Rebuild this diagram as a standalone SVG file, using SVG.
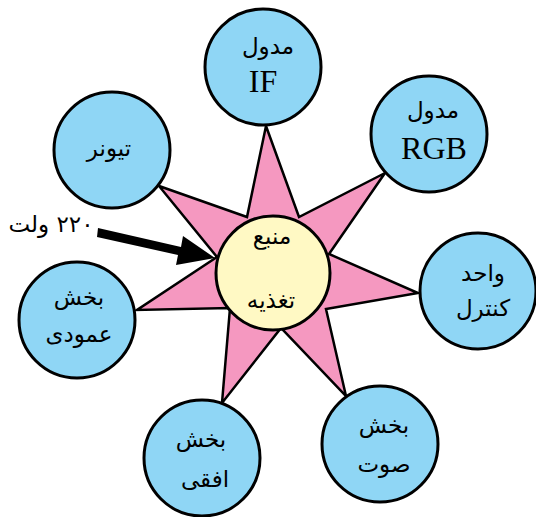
<svg xmlns="http://www.w3.org/2000/svg" width="536" height="517" viewBox="0 0 536 517">
<style>
.c{fill:#8fd6f5;stroke:#000;stroke-width:3}
.t{font-family:"DejaVu Sans","Liberation Serif",serif;font-size:23px;text-anchor:middle;fill:#000}
.l{font-family:"Liberation Serif",serif;font-size:32px}
</style>
<g id="star"><polygon points="266,126 299,217 385,173 329,254 418,293 326,309 346,396 281,328 222,403 230,308 137,310 217,257 159,186 247,217" fill="#f598c0" stroke="#000" stroke-width="2.5" stroke-linejoin="miter"/></g>
<g id="connectors"><polygon points="98,228 181,247 183,236 215,258 176,265 178,255 97,237" fill="#000"/></g>
<g id="center"><circle cx="273" cy="273" r="57" fill="#fff9c4" stroke="#000" stroke-width="3"/><text class="t" x="272" y="244" direction="rtl">منبع</text><text class="t" x="271" y="308" direction="rtl">تغذیه</text></g>
<g id="if"><circle class="c" cx="263" cy="67" r="58"/><text class="t" x="268" y="54" direction="rtl">مدول</text><text class="t l" x="263" y="92">IF</text></g>
<g id="rgb"><circle class="c" cx="429" cy="134" r="58"/><text class="t" x="433" y="118" direction="rtl">مدول</text><text class="t l" x="434" y="159">RGB</text></g>
<g id="control"><circle class="c" cx="478" cy="291" r="58"/><text class="t" x="483" y="281" direction="rtl">واحد</text><text class="t" x="483" y="316" direction="rtl">کنترل</text></g>
<g id="audio"><circle class="c" cx="380" cy="444" r="58"/><text class="t" x="384" y="433" direction="rtl">بخش</text><text class="t" x="384" y="472" direction="rtl">صوت</text></g>
<g id="horizontal"><circle class="c" cx="202" cy="458" r="58"/><text class="t" x="201" y="447" direction="rtl">بخش</text><text class="t" x="205" y="487" direction="rtl">افقی</text></g>
<g id="vertical"><circle class="c" cx="77" cy="320" r="58"/><text class="t" x="79" y="305" direction="rtl">بخش</text><text class="t" x="79" y="342" direction="rtl">عمودی</text></g>
<g id="tuner"><circle class="c" cx="112" cy="150" r="58"/><text class="t" x="109" y="156" direction="rtl">تیونر</text></g>
<g id="voltage"><text class="t" x="51" y="232" direction="rtl">۲۲۰ ولت</text></g>
</svg>
